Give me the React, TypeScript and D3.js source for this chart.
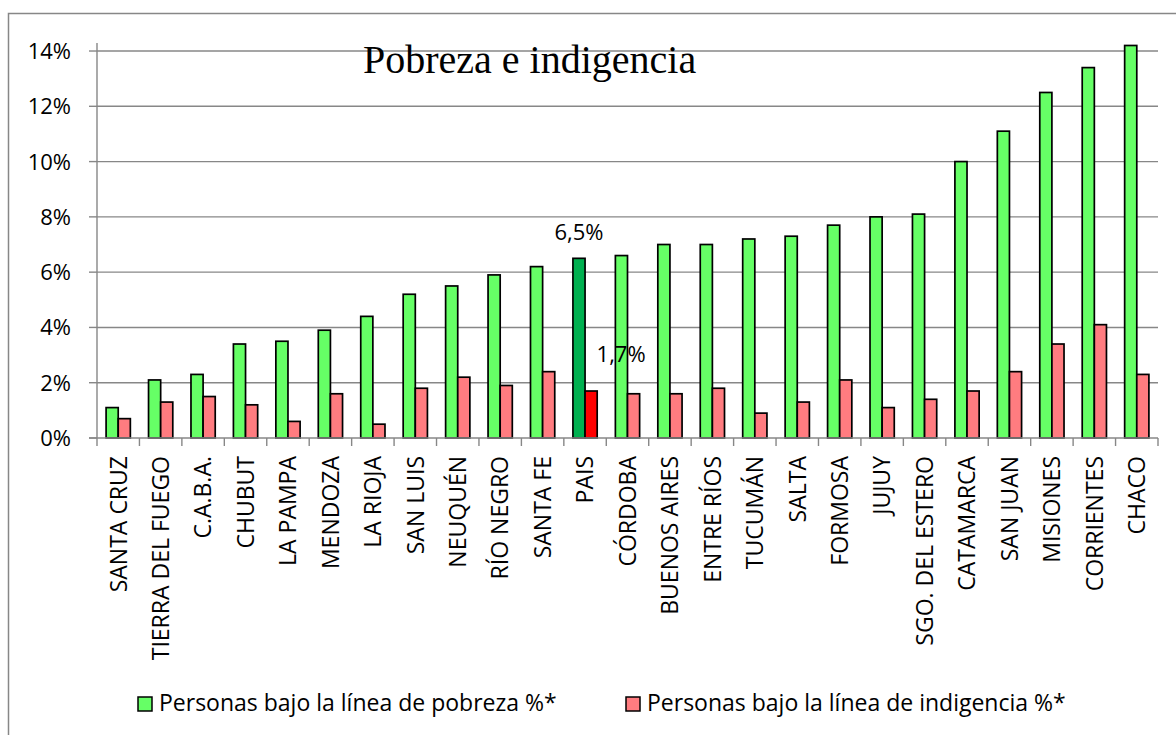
import React from 'react';
import { scaleBand, scaleLinear } from 'd3';

const provinces = [
  'SANTA CRUZ', 'TIERRA DEL FUEGO', 'C.A.B.A.', 'CHUBUT', 'LA PAMPA', 'MENDOZA', 'LA RIOJA',
  'SAN LUIS', 'NEUQUÉN', 'RÍO NEGRO', 'SANTA FE', 'PAIS', 'CÓRDOBA', 'BUENOS AIRES',
  'ENTRE RÍOS', 'TUCUMÁN', 'SALTA', 'FORMOSA', 'JUJUY', 'SGO. DEL ESTERO', 'CATAMARCA',
  'SAN JUAN', 'MISIONES', 'CORRIENTES', 'CHACO',
];
const pobreza = [
  1.1, 2.1, 2.3, 3.4, 3.5, 3.9, 4.4, 5.2, 5.5, 5.9, 6.2, 6.5, 6.6, 7.0, 7.0, 7.2, 7.3, 7.7,
  8.0, 8.1, 10.0, 11.1, 12.5, 13.4, 14.2,
];
const indigencia = [
  0.7, 1.3, 1.5, 1.2, 0.6, 1.6, 0.5, 1.8, 2.2, 1.9, 2.4, 1.7, 1.6, 1.6, 1.8, 0.9, 1.3, 2.1,
  1.1, 1.4, 1.7, 2.4, 3.4, 4.1, 2.3,
];
const seriesNames = ['Personas bajo la línea de pobreza %*', 'Personas bajo la línea de indigencia %*'];
const yTicks = [0, 2, 4, 6, 8, 10, 12, 14];
const highlight = 'PAIS';

const W = 1176;
const H = 735;
const left = 97;
const right = 1158;
const top = 43;
const bottom = 438;

const sans = '"Open Sans", sans-serif';
const axisGray = '#878787';

export default function App() {
  const x = scaleBand<string>().domain(provinces).range([left, right]).padding(0);
  const sub = scaleBand<string>().domain(['p', 'i']).range([0, x.bandwidth()]).paddingInner(0).paddingOuter(0.75);
  const y = scaleLinear().domain([0, 14.29]).range([bottom, top]);

  const pais = provinces.indexOf(highlight);
  const paisX = x(highlight)!;

  return (
    <svg width={W} height={H} style={{ position: 'absolute', left: 0, top: 0, background: '#fff' }}>
      <rect x={8.5} y={13.5} width={1300} height={900} fill="none" stroke={axisGray} strokeWidth={1.5} />

      {/* gridlines + y ticks */}
      {yTicks.map((t) => (
        <g key={t}>
          {t > 0 && <line x1={left} x2={right} y1={y(t)} y2={y(t)} stroke={axisGray} strokeWidth={1.4} />}
          <line x1={left - 8} x2={left} y1={y(t)} y2={y(t)} stroke={axisGray} strokeWidth={1.4} />
          <text x={71} y={y(t)} dy="0.36em" textAnchor="end" fontFamily={sans} fontSize={22} fill="#000">
            {t}%
          </text>
        </g>
      ))}

      {/* title */}
      <text x={363} y={73} fontFamily='"Liberation Serif", "Times New Roman", serif' fontSize={40} fill="#000">
        Pobreza e indigencia
      </text>

      {/* bars */}
      {provinces.map((p, i) => {
        const bx = x(p)!;
        const hi = p === highlight;
        return (
          <g key={p}>
            <rect
              x={bx + sub('p')!}
              y={y(pobreza[i])}
              width={sub.bandwidth()}
              height={y(0) - y(pobreza[i])}
              fill={hi ? '#00B050' : '#66FF66'}
              stroke="#000"
              strokeWidth={1.7}
            />
            <rect
              x={bx + sub('i')!}
              y={y(indigencia[i])}
              width={sub.bandwidth()}
              height={y(0) - y(indigencia[i])}
              fill={hi ? '#FF0000' : '#FF7C80'}
              stroke="#000"
              strokeWidth={1.7}
            />
          </g>
        );
      })}

      {/* axes */}
      <line x1={left} x2={left} y1={top} y2={bottom} stroke={axisGray} strokeWidth={1.4} />
      <line x1={left - 8} x2={right} y1={bottom} y2={bottom} stroke={axisGray} strokeWidth={1.4} />
      {provinces.concat(['']).map((_, i) => {
        const tx = left + i * x.step();
        return <line key={i} x1={tx} x2={tx} y1={bottom} y2={bottom + 8} stroke={axisGray} strokeWidth={1.4} />;
      })}

      {/* category labels */}
      {provinces.map((p) => {
        const cx = x(p)! + x.bandwidth() / 2;
        return (
          <text
            key={p}
            transform={`translate(${cx},456) rotate(-90)`}
            dy="0.36em"
            textAnchor="end"
            fontFamily={sans}
            fontSize={23}
            fill="#000"
          >
            {p}
          </text>
        );
      })}

      {/* data labels for PAIS */}
      <text
        x={paisX + sub('p')! + sub.bandwidth() / 2}
        y={y(pobreza[pais]) - 18}
        textAnchor="middle"
        fontFamily={sans}
        fontSize={22}
        fill="#000"
      >
        {String(pobreza[pais]).replace('.', ',')}%
      </text>
      <text
        x={paisX + sub('i')! + sub.bandwidth() / 2 + 30}
        y={y(indigencia[pais]) - 29}
        textAnchor="middle"
        fontFamily={sans}
        fontSize={22}
        fill="#000"
      >
        {String(indigencia[pais]).replace('.', ',')}%
      </text>

      {/* legend */}
      {seriesNames.map((s, i) => {
        const lx = i === 0 ? 138 : 626;
        return (
          <g key={s}>
            <rect x={lx} y={697} width={14} height={14} fill={i === 0 ? '#66FF66' : '#FF7C80'} stroke="#000" strokeWidth={1.5} />
            <text x={lx + 21} y={711} fontFamily={sans} fontSize={23} fill="#000">
              {s}
            </text>
          </g>
        );
      })}
    </svg>
  );
}
